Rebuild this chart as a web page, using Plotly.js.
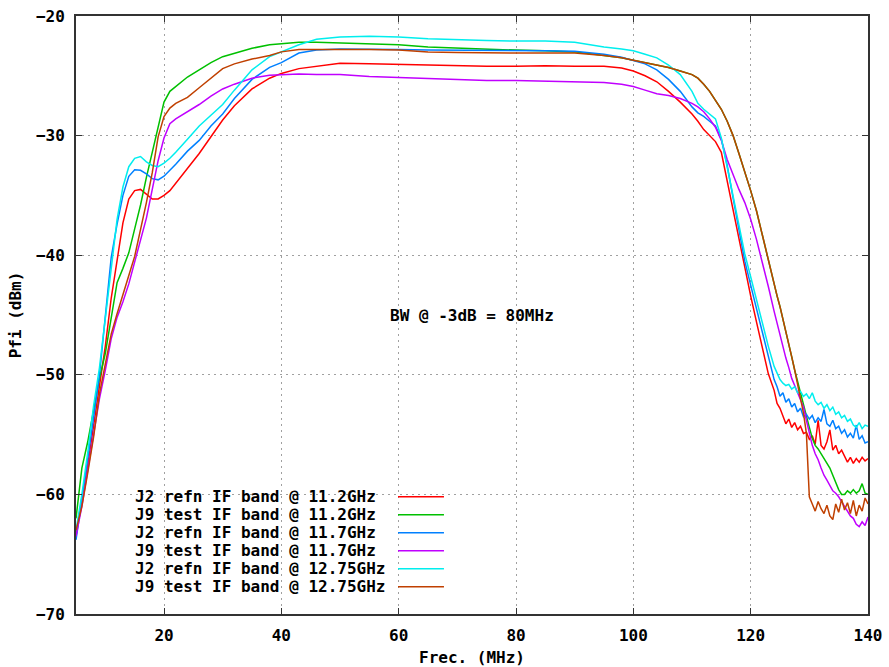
<!DOCTYPE html>
<html>
<head>
<meta charset="utf-8">
<script src="https://cdn.plot.ly/plotly-3.0.1.min.js"></script>
<style>html,body{margin:0;padding:0;background:#fff;}#chart{width:889px;height:667px;}</style>
</head>
<body>
<div id="chart"></div>
<script>
// Frequency grid (MHz)
const freq = [5,6,7,8,9,10,11,12,13,14,15,16,17,18,19,20,21,22,24,26,28,30,32,35,38,40,43,46,50,55,60,65,70,75,80,85,90,95,98,100,102,104,106,108,110,111,112,113,114,115,116,117,118,119,120,121,122,123,124,124.5,125,125.5,126,126.5,127,127.5,128,128.5,129,129.5,130,130.5,131,131.5,132,132.5,133,133.5,134,134.5,135,135.5,136,136.5,137,137.5,138,138.5,139,139.5,140];

// Pfi (dBm) per series
const j2_112 = [-63.5,-60.3,-57.6,-54.4,-51.2,-47.6,-43.6,-40.5,-37.3,-35.3,-34.6,-34.5,-34.9,-35.3,-35.3,-35.0,-34.6,-34.0,-32.8,-31.5,-30.1,-28.7,-27.5,-26.1,-25.2,-24.8,-24.4,-24.2,-23.95,-24.0,-24.05,-24.15,-24.2,-24.2,-24.2,-24.15,-24.2,-24.2,-24.35,-24.6,-25.0,-25.5,-26.3,-27.2,-28.2,-28.8,-29.5,-30.0,-30.5,-31.4,-33.8,-36.3,-38.8,-41.1,-43.4,-45.6,-47.8,-49.9,-51.3,-52.4,-52.8,-53.5,-54.1,-53.7,-54.4,-54.0,-54.6,-54.3,-54.9,-54.8,-55.4,-55.1,-55.8,-53.8,-55.9,-56.2,-55.6,-54.6,-56.3,-55.9,-56.6,-56.3,-56.8,-57.3,-56.9,-57.4,-57.0,-57.3,-56.9,-57.2,-57.0];
const j9_112 = [-62.0,-57.8,-55.6,-53.0,-50.3,-48.2,-45.3,-42.3,-41.1,-39.8,-37.8,-35.8,-33.5,-31.4,-29.3,-27.2,-26.3,-25.9,-25.1,-24.5,-23.9,-23.4,-23.1,-22.7,-22.4,-22.3,-22.2,-22.2,-22.25,-22.3,-22.4,-22.6,-22.7,-22.8,-22.85,-22.9,-23.0,-23.3,-23.5,-23.7,-23.9,-24.1,-24.3,-24.6,-24.9,-25.2,-25.7,-26.3,-27.0,-27.8,-28.8,-30.0,-31.5,-33.0,-34.6,-36.3,-38.4,-40.5,-42.4,-43.4,-44.3,-45.3,-46.3,-47.4,-48.5,-49.6,-50.6,-51.5,-52.4,-53.4,-54.4,-55.3,-55.9,-56.2,-56.6,-56.9,-57.4,-57.8,-58.4,-59.0,-59.6,-60.0,-60.0,-59.7,-59.9,-59.6,-59.9,-59.7,-59.1,-59.9,-60.0];
const j2_117 = [-63.8,-60.5,-57.0,-53.6,-50.0,-45.4,-40.2,-37.4,-35.0,-33.4,-32.85,-32.9,-33.2,-33.6,-33.7,-33.4,-32.9,-32.4,-31.3,-30.4,-29.2,-28.2,-26.9,-25.3,-24.3,-23.9,-23.1,-22.85,-22.75,-22.75,-22.8,-22.85,-22.85,-22.9,-22.9,-22.9,-22.95,-23.2,-23.45,-23.7,-24.0,-24.5,-25.3,-26.3,-27.6,-28.1,-28.4,-28.8,-29.2,-30.3,-32.5,-35.2,-38.0,-40.5,-42.5,-44.5,-46.5,-48.5,-50.4,-51.0,-51.8,-51.5,-52.3,-52.0,-52.7,-52.4,-53.1,-52.8,-53.5,-53.3,-53.7,-53.4,-54.0,-53.6,-53.9,-52.9,-54.1,-54.3,-53.8,-54.5,-54.3,-54.9,-54.6,-55.2,-54.9,-55.3,-54.2,-55.4,-55.1,-55.7,-55.6];
const j9_117 = [-63.5,-61.0,-58.0,-55.0,-52.0,-49.6,-47.0,-45.2,-43.9,-42.4,-40.6,-38.7,-36.9,-34.5,-32.1,-30.2,-29.0,-28.6,-28.0,-27.4,-26.7,-26.1,-25.7,-25.2,-24.95,-24.9,-24.85,-24.9,-24.9,-25.05,-25.15,-25.2,-25.35,-25.4,-25.4,-25.45,-25.5,-25.55,-25.7,-25.9,-26.2,-26.5,-26.65,-26.9,-27.3,-27.6,-28.0,-28.6,-29.3,-30.4,-32.0,-33.3,-34.5,-35.6,-37.0,-38.7,-40.6,-42.6,-44.7,-45.7,-46.8,-47.7,-48.6,-49.4,-50.3,-50.9,-51.5,-52.1,-52.7,-53.8,-55.0,-55.9,-56.6,-57.1,-57.8,-58.4,-58.8,-59.3,-59.7,-59.9,-60.2,-60.6,-61.0,-61.3,-61.8,-62.0,-62.5,-62.7,-62.3,-62.6,-61.9];
const j2_1275 = [-63.0,-60.0,-56.5,-52.6,-49.4,-45.3,-41.0,-37.0,-34.3,-32.6,-31.9,-31.75,-32.2,-32.5,-32.6,-32.3,-31.9,-31.4,-30.3,-29.2,-28.3,-27.4,-26.2,-24.5,-23.4,-23.0,-22.4,-21.95,-21.75,-21.7,-21.75,-21.9,-22.0,-22.05,-22.1,-22.1,-22.2,-22.6,-22.75,-22.9,-23.2,-23.5,-24.1,-24.9,-26.3,-27.3,-27.8,-28.2,-28.6,-30.2,-32.6,-35.1,-37.6,-39.9,-41.8,-43.7,-45.8,-47.6,-49.3,-49.9,-50.4,-50.7,-50.9,-50.8,-51.2,-51.0,-51.5,-51.4,-51.8,-51.6,-52.0,-51.5,-52.2,-52.5,-52.3,-52.8,-52.5,-53.0,-52.7,-53.3,-53.1,-53.6,-53.4,-53.9,-53.7,-54.2,-54.4,-54.0,-54.5,-54.2,-54.3];
const j9_1275 = [-63.0,-61.0,-58.2,-55.2,-51.6,-49.0,-46.6,-44.9,-43.4,-41.7,-40.1,-37.9,-35.6,-33.1,-30.1,-28.4,-27.7,-27.3,-26.8,-26.0,-25.2,-24.4,-24.0,-23.6,-23.3,-23.0,-22.8,-22.8,-22.75,-22.8,-22.85,-23.0,-23.05,-23.1,-23.1,-23.1,-23.1,-23.3,-23.5,-23.7,-23.9,-24.1,-24.3,-24.6,-24.9,-25.2,-25.7,-26.3,-27.0,-27.8,-28.8,-30.0,-31.5,-33.0,-34.6,-36.3,-38.4,-40.5,-42.4,-43.4,-44.3,-45.3,-46.3,-47.4,-48.5,-49.6,-50.8,-51.8,-53.2,-54.9,-60.2,-60.8,-61.4,-60.6,-61.2,-61.6,-60.9,-61.8,-62.1,-60.8,-61.5,-60.4,-61.3,-60.7,-61.6,-60.5,-61.8,-60.9,-61.4,-60.3,-60.8];

const seriesNames = [
  'J2 refn IF band @ 11.2GHz',
  'J9 test IF band @ 11.2GHz',
  'J2 refn IF band @ 11.7GHz',
  'J9 test IF band @ 11.7GHz',
  'J2 refn IF band @ 12.75GHz',
  'J9 test IF band @ 12.75GHz'
];
const seriesData = [j2_112, j9_112, j2_117, j9_117, j2_1275, j9_1275];
const seriesColors = ['#ff0000','#00c000','#0080ff','#c000ff','#00eeee','#c04000'];
const xTicks = [20,40,60,80,100,120,140];

const FONT = {family:'"DejaVu Sans Mono", monospace', size:16, weight:'bold', color:'#000'};

const traces = seriesData.map((y,i)=>({
  type:'scatter', mode:'lines', x:freq, y:y, name:seriesNames[i],
  line:{color:seriesColors[i], width:1.5}, showlegend:false, hoverinfo:'skip'
}));

// Manual gnuplot-style key (text left, sample right)
const annotations = [];
const shapes = [];
const keyTop = 0.1962, keyStep = 0.0301;
seriesNames.forEach((n,i)=>{
  const yy = keyTop - i*keyStep;
  annotations.push({xref:'paper', yref:'paper', x:0.072, y:yy, xanchor:'left', yanchor:'middle',
    text:n, showarrow:false, font:FONT});
  shapes.push({type:'line', xref:'paper', yref:'paper', x0:0.4066, x1:0.4646, y0:yy, y1:yy,
    line:{color:seriesColors[i], width:1.5}});
});
annotations.push({xref:'x', yref:'y', x:72.5, y:-45, text:'BW @ -3dB = 80MHz', showarrow:false,
  xanchor:'center', yanchor:'middle', font:FONT});

const layout = {
  width:889, height:667,
  margin:{l:76, r:21, t:16, b:53},
  paper_bgcolor:'#fff', plot_bgcolor:'#fff',
  font:FONT,
  xaxis:{
    range:[5,140], tickvals:xTicks, ticks:'inside', ticklen:6, tickcolor:'#333',
    showline:true, linecolor:'#333', linewidth:2, mirror:'ticks',
    showgrid:true, gridcolor:'#a0a0a0', griddash:'2px,4px', gridwidth:1,
    zeroline:false, tickfont:FONT, ticklabelstandoff:6,
    title:{text:'Frec. (MHz)', font:FONT, standoff:8}
  },
  yaxis:{
    range:[-70,-20], dtick:10, tick0:-70, ticks:'inside', ticklen:6, tickcolor:'#333',
    showline:true, linecolor:'#333', linewidth:2, mirror:'ticks',
    showgrid:true, gridcolor:'#a0a0a0', griddash:'2px,4px', gridwidth:1,
    zeroline:false, tickfont:FONT, ticklabelstandoff:6,
    title:{text:'Pfi (dBm)', font:FONT, standoff:10}
  },
  annotations:annotations,
  shapes:shapes
};

Plotly.newPlot('chart', traces, layout, {displayModeBar:false, staticPlot:true});
</script>
</body>
</html>
